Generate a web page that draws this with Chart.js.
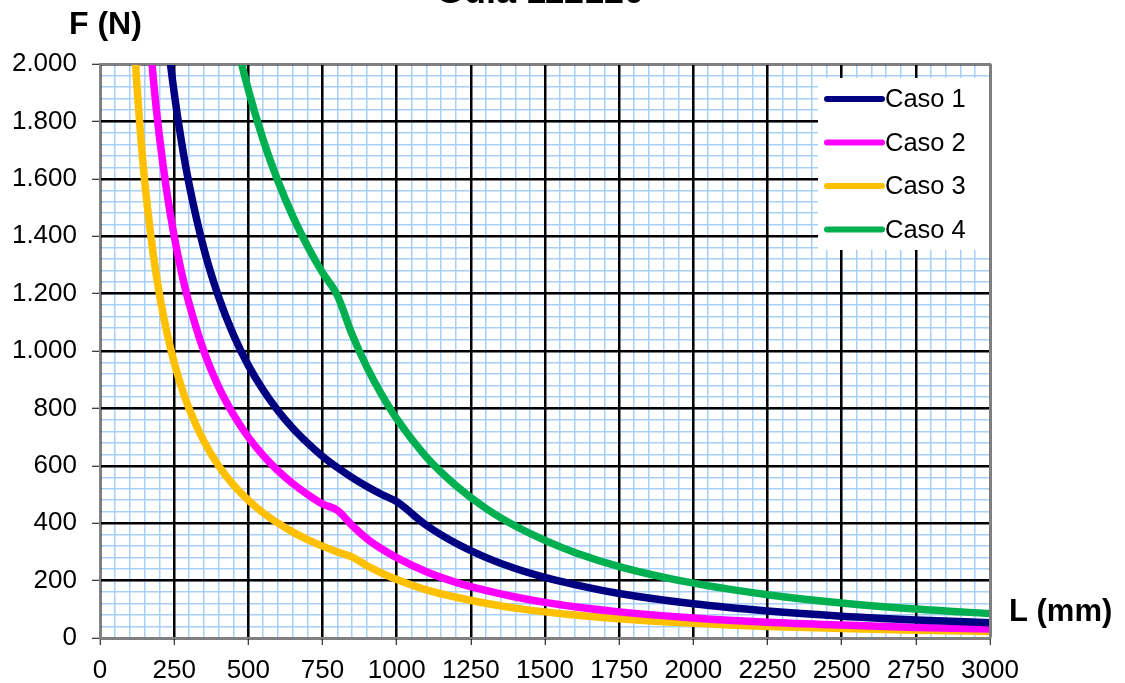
<!DOCTYPE html>
<html>
<head>
<meta charset="utf-8">
<script src="https://cdn.jsdelivr.net/npm/chart.js@4.4.1/dist/chart.umd.min.js"></script>
<style>
  body { margin: 0; background: #fff; }
  #wrap { width: 1125px; height: 683px; position: relative; }
</style>
</head>
<body>
<div id="wrap"><canvas id="myChart"></canvas></div>
<script>
// L (mm) sample points, shared by all four series
const lengths = [100, 120, 140, 160, 180, 200, 225, 250, 275, 300, 350, 400, 450, 500, 550, 600, 650, 700, 750, 800,
  850, 900, 950, 1000, 1100, 1200, 1300, 1400, 1500, 1600, 1750, 2000, 2250, 2500, 2750, 3000];

// F (N)
const caso1 = [null, null, null, null, null, 2375, 2111, 1900, 1727, 1583, 1357, 1188, 1056, 950, 864, 792, 731, 679, 633, 594,
  559, 528, 500, 475, 393, 330, 281, 242, 211, 186, 155, 119, 94, 76, 63, 53];
const caso2 = [null, null, null, 2188, 1944, 1750, 1556, 1400, 1273, 1167, 1000, 875, 778, 700, 636, 583, 538, 500, 467, 445,
  392, 346, 310, 280, 231, 194, 166, 143, 124, 109, 91, 70, 55, 45, 37, 31];
const caso3 = [2400, 2000, 1714, 1500, 1333, 1200, 1067, 960, 873, 800, 686, 600, 533, 480, 436, 400, 369, 343, 320, 300,
  282, 252, 226, 204, 168, 142, 121, 104, 91, 80, 67, 51, 40, 33, 27, 23];
const caso4 = [null, null, null, null, null, null, null, null, null, null, null, 2388, 2122, 1910, 1736, 1592, 1469, 1364, 1273, 1194,
  1057, 943, 847, 764, 631, 531, 452, 390, 340, 298, 249, 191, 151, 122, 101, 85];

const seriesNames = ['Caso 1', 'Caso 2', 'Caso 3', 'Caso 4'];
const seriesColors = ['#000080', '#FF00FF', '#FFC000', '#00B050'];
const seriesValues = [caso1, caso2, caso3, caso4];

const titleText = 'Guía 112120';
const yTitle = 'F (N)';
const xTitle = 'L (mm)';

const FONT = "'Liberation Sans', Arial, sans-serif";
const MINOR = '#A8CFFA';

function thousands(v) {
  return String(v).replace(/\B(?=(\d{3})+(?!\d))/g, '.');
}

// titles and custom legend drawn on the canvas
const extrasPlugin = {
  id: 'extras',
  afterDraw(chart) {
    const ctx = chart.ctx;
    const area = chart.chartArea;
    ctx.save();

    // legend box
    const lx = 818, ly = 78, lw = area.right - 818, lh = 172;
    ctx.fillStyle = '#fff';
    ctx.fillRect(lx, ly, lw, lh);
    chart.data.datasets.forEach((ds, i) => {
      const cy = 99 + i * 43.5;
      ctx.strokeStyle = ds.borderColor;
      ctx.lineWidth = 6;
      ctx.lineCap = 'round';
      ctx.beginPath();
      ctx.moveTo(827, cy);
      ctx.lineTo(882, cy);
      ctx.stroke();
      ctx.fillStyle = '#000';
      ctx.font = '25.5px ' + FONT;
      ctx.textAlign = 'left';
      ctx.textBaseline = 'middle';
      ctx.fillText(ds.label, 885, cy + 1);
    });

    // plot border (top and right)
    ctx.strokeStyle = '#808080';
    ctx.lineWidth = 2;
    ctx.lineCap = 'butt';
    ctx.beginPath();
    ctx.moveTo(area.left, area.top);
    ctx.lineTo(area.right, area.top);
    ctx.lineTo(area.right, area.bottom);
    ctx.stroke();

    ctx.fillStyle = '#000';
    ctx.textBaseline = 'alphabetic';
    ctx.font = 'bold 36px ' + FONT;
    ctx.textAlign = 'center';
    ctx.fillText(titleText, 540, 3);
    ctx.font = 'bold 32px ' + FONT;
    ctx.textAlign = 'left';
    ctx.fillText(yTitle, 69, 34);
    ctx.font = 'bold 31px ' + FONT;
    ctx.fillText(xTitle, 1009, 621);
    ctx.restore();
  }
};

document.addEventListener('DOMContentLoaded', function() {
  const datasets = seriesNames.map((name, k) => ({
    label: name,
    data: lengths.map((x, i) => ({ x: x, y: seriesValues[k][i] })),
    borderColor: seriesColors[k],
    backgroundColor: seriesColors[k],
    borderWidth: 7.5,
    pointRadius: 0,
    fill: false,
    cubicInterpolationMode: 'monotone',
    clip: 0
  }));

  const ctx = document.getElementById('myChart').getContext('2d');
  const myChart = new Chart(ctx, {
    type: 'line',
    data: { datasets: datasets },
    options: {
      responsive: true,
      maintainAspectRatio: false,
      animation: false,
      devicePixelRatio: 1,
      layout: { padding: { top: 64, right: 135, left: 0, bottom: 0 } },
      plugins: {
        legend: { display: false },
        tooltip: { enabled: false }
      },
      scales: {
        // light blue minor grid, drawn first
        xMinor: {
          type: 'linear',
          position: 'bottom',
          min: 0,
          max: 3000,
          afterFit: scale => { scale.height = 0; },
          border: { display: false },
          grid: { color: MINOR, lineWidth: 1.5, drawTicks: false, z: -3 },
          ticks: { display: false, stepSize: 50, autoSkip: false }
        },
        yMinor: {
          type: 'linear',
          position: 'left',
          min: 0,
          max: 2000,
          afterFit: scale => { scale.width = 0; },
          border: { display: false },
          grid: { color: MINOR, lineWidth: 1.5, drawTicks: false, z: -3 },
          ticks: { display: false, stepSize: 40, autoSkip: false }
        },
        // black major grid with labels
        x: {
          type: 'linear',
          position: 'bottom',
          min: 0,
          max: 3000,
          afterFit: scale => { scale.height = 45; },
          border: { color: '#808080', width: 2 },
          grid: { color: '#000', lineWidth: 2.5, tickColor: '#000', tickWidth: 1, tickLength: 7, z: -1 },
          ticks: {
            stepSize: 250,
            autoSkip: false,
            maxRotation: 0,
            padding: 10,
            color: '#000',
            font: { family: FONT, size: 26 },
            callback: v => String(v)
          }
        },
        y: {
          position: 'left',
          min: 0,
          max: 2000,
          afterFit: scale => { scale.width = 100; },
          border: { color: '#808080', width: 2 },
          grid: { color: '#000', lineWidth: 2.5, tickColor: '#000', tickWidth: 1, tickLength: 8, z: -1 },
          ticks: {
            stepSize: 200,
            autoSkip: false,
            padding: 15,
            color: '#000',
            font: { family: FONT, size: 26 },
            callback: v => thousands(v)
          }
        }
      }
    },
    plugins: [extrasPlugin]
  });
});
</script>
</body>
</html>
